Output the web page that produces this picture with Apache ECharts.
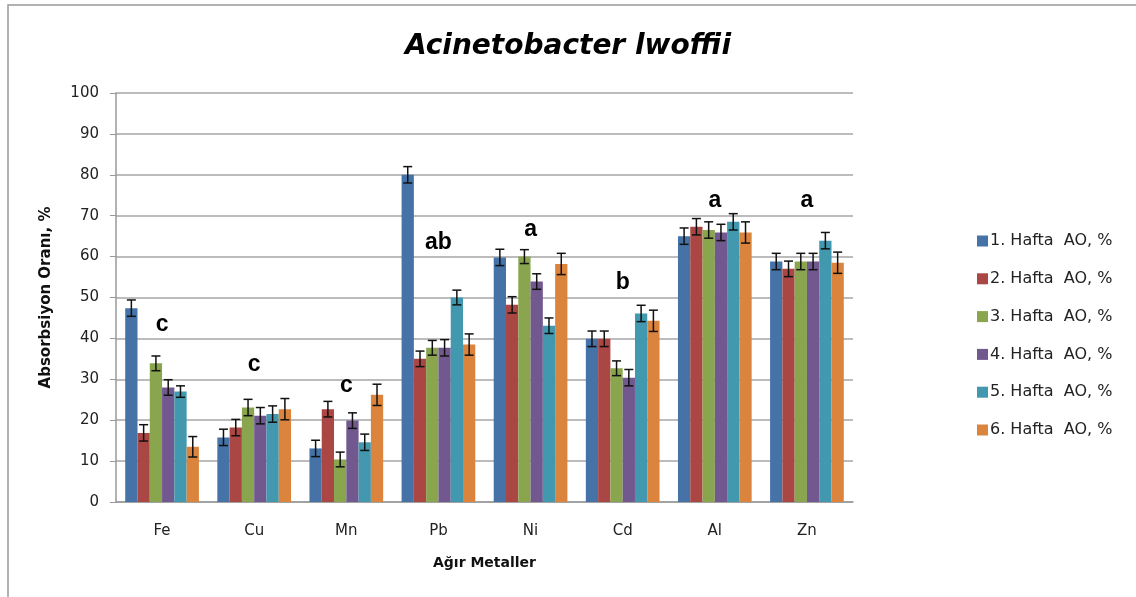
<!DOCTYPE html>
<html>
<head>
<meta charset="utf-8">
<script src="https://cdn.jsdelivr.net/npm/echarts@6/dist/echarts.min.js"></script>
<style>
  html, body { margin: 0; padding: 0; background: #fff; }
  #chart { width: 1136px; height: 597px; }
</style>
</head>
<body>
<div id="chart"></div>
<script>
const metals = ['Fe', 'Cu', 'Mn', 'Pb', 'Ni', 'Cd', 'Al', 'Zn'];
const weeks = ['1. Hafta  AO, %', '2. Hafta  AO, %', '3. Hafta  AO, %', '4. Hafta  AO, %', '5. Hafta  AO, %', '6. Hafta  AO, %'];

const week1 = [47.4, 15.8, 13.1, 80.0, 59.8, 39.9, 65.0, 58.8];
const week2 = [16.9, 18.2, 22.7, 35.0, 48.2, 39.9, 67.3, 57.0];
const week3 = [33.9, 23.1, 10.4, 37.7, 60.0, 32.7, 66.5, 58.8];
const week4 = [28.0, 21.1, 19.9, 37.7, 53.9, 30.4, 65.9, 58.8];
const week5 = [27.0, 21.5, 14.6, 50.0, 43.1, 46.1, 68.5, 63.9];
const week6 = [13.5, 22.7, 26.2, 38.5, 58.2, 44.3, 65.9, 58.5];

// +/- error for each week
const err1 = [2.0, 2.0, 2.0, 2.0, 2.0, 1.9, 2.0, 2.0];
const err2 = [2.0, 2.0, 1.9, 1.9, 2.0, 1.9, 2.0, 1.9];
const err3 = [1.8, 2.0, 1.8, 1.8, 1.7, 1.8, 2.0, 2.0];
const err4 = [1.9, 2.0, 1.9, 2.0, 1.9, 2.0, 2.0, 2.0];
const err5 = [1.4, 2.0, 2.0, 1.8, 1.9, 2.0, 2.0, 2.0];
const err6 = [2.5, 2.6, 2.6, 2.6, 2.6, 2.6, 2.6, 2.6];

// significance letters and the height they sit at
const letters = ['c', 'c', 'c', 'ab', 'a', 'b', 'a', 'a'];
const letterY = [43.3, 33.7, 28.4, 63.3, 66.7, 53.6, 73.8, 73.8];

const yTicks = [0, 10, 20, 30, 40, 50, 60, 70, 80, 90, 100];

const colors = ['#4572A7', '#AA4643', '#89A54E', '#71588F', '#4198AF', '#DB843D'];
const values = [week1, week2, week3, week4, week5, week6];
const errors = [err1, err2, err3, err4, err5, err6];

const chart = echarts.init(document.getElementById('chart'));

const catGap = 0.2;
const nSeries = values.length;

const barSeries = values.map((data, i) => ({
    name: weeks[i],
    type: 'bar',
    data: data,
    barGap: '0%',
    barCategoryGap: '20%',
    itemStyle: { color: colors[i] }
}));

const errSeries = errors.map((err, i) => ({
    type: 'custom',
    name: 'err' + i,
    silent: true,
    z: 5,
    data: values[i].map((v, k) => [k, v, err[k]]),
    renderItem: (params, api) => {
        const k = api.value(0);
        const v = api.value(1);
        const e = api.value(2);
        const band = api.size([1, 0])[0];
        const barW = band * (1 - catGap) / nSeries;
        const base = api.coord([k, v]);
        const x = base[0] - band * (1 - catGap) / 2 + (i + 0.5) * barW;
        const top = api.coord([k, v + e])[1];
        const bot = api.coord([k, v - e])[1];
        const cap = 4.5;
        const style = { stroke: '#111', lineWidth: 1.5 };
        return {
            type: 'group',
            children: [
                { type: 'line', shape: { x1: x, y1: top, x2: x, y2: bot }, style: style },
                { type: 'line', shape: { x1: x - cap, y1: top, x2: x + cap, y2: top }, style: style },
                { type: 'line', shape: { x1: x - cap, y1: bot, x2: x + cap, y2: bot }, style: style }
            ]
        };
    }
}));

// letters drawn as text at data coordinates
const letterSeries = {
    type: 'custom',
    name: 'letters',
    silent: true,
    z: 6,
    data: letterY.map((y, k) => [k, y]),
    renderItem: (params, api) => {
        const p = api.coord([api.value(0), api.value(1)]);
        return {
            type: 'text',
            x: p[0],
            y: p[1],
            style: {
                text: letters[params.dataIndex],
                align: 'center',
                verticalAlign: 'middle',
                font: 'bold 23px "Liberation Sans"',
                fill: '#000'
            }
        };
    }
};

chart.setOption({
    animation: false,
    title: {
        text: 'Acinetobacter lwoffii',
        left: 'center',
        top: 28,
        textStyle: {
            fontFamily: 'DejaVu Sans',
            fontStyle: 'italic',
            fontWeight: 'bold',
            fontSize: 28,
            color: '#000'
        }
    },
    legend: {
        data: weeks,
        orient: 'vertical',
        left: 972,
        top: 228,
        itemWidth: 11,
        itemHeight: 11,
        itemGap: 21.8,
        icon: 'rect',
        textStyle: { fontFamily: 'DejaVu Sans', fontSize: 16, color: '#222', padding: [0, 0, 0, -3] }
    },
    graphic: [{
        type: 'rect',
        shape: { x: 8, y: 5, width: 1200, height: 700 },
        style: { fill: 'none', stroke: '#999', lineWidth: 1.5 },
        silent: true
    }],
    grid: { left: 116, right: 283, top: 93, bottom: 95 },
    xAxis: {
        type: 'category',
        data: metals,
        name: 'Ağır Metaller',
        nameLocation: 'middle',
        nameGap: 54,
        nameTextStyle: { fontFamily: 'DejaVu Sans', fontWeight: 'bold', fontSize: 14, color: '#111' },
        axisLine: { lineStyle: { color: '#999', width: 1.5 } },
        axisTick: { show: false },
        axisLabel: { margin: 22, fontFamily: 'DejaVu Sans', fontSize: 15, color: '#222' }
    },
    yAxis: {
        type: 'value',
        min: yTicks[0],
        max: yTicks[yTicks.length - 1],
        interval: 10,
        name: 'Absorbsiyon Oranı, %',
        nameLocation: 'middle',
        nameGap: 62,
        nameTextStyle: { fontFamily: 'DejaVu Sans', fontWeight: 'bold', fontSize: 15, color: '#111' },
        axisLine: { show: true, lineStyle: { color: '#999', width: 1.5 } },
        axisTick: { show: true, length: 6, lineStyle: { color: '#999' } },
        axisLabel: { margin: 17, fontFamily: 'DejaVu Sans', fontSize: 15, color: '#222' },
        splitLine: { lineStyle: { color: '#a6a6a6', width: 1.5 } }
    },
    series: [...barSeries, ...errSeries, letterSeries]
});
</script>
</body>
</html>
